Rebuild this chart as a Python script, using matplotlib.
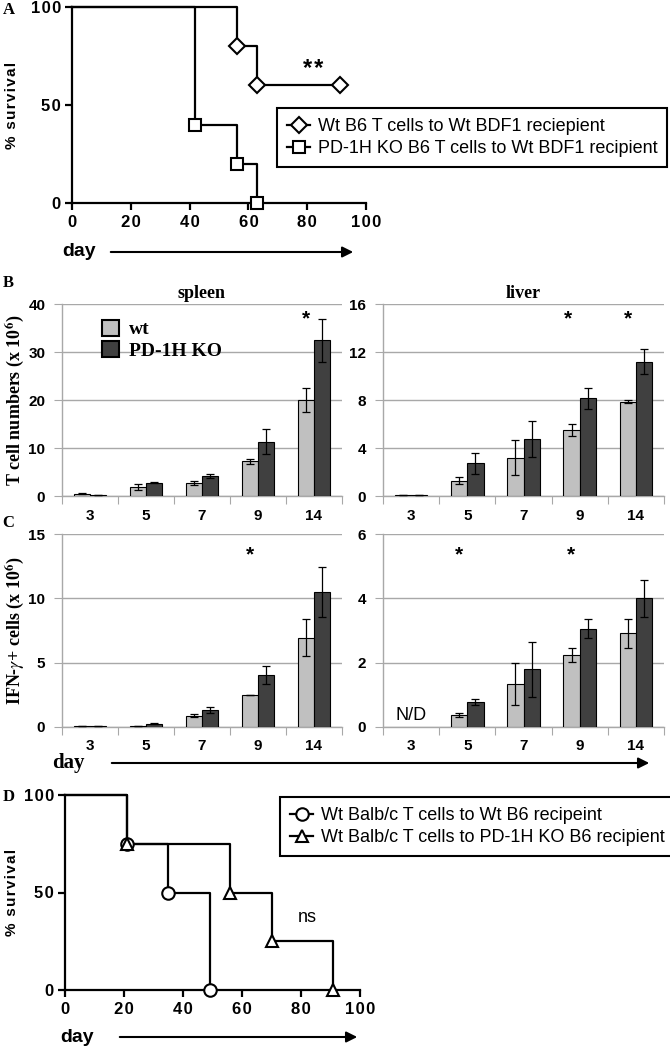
import numpy as np
import matplotlib
matplotlib.use("Agg")
import matplotlib.pyplot as plt
from matplotlib.patches import Patch, FancyArrowPatch
from matplotlib.lines import Line2D

SANS = ["Liberation Sans", "DejaVu Sans"]
SERIF = ["Liberation Serif", "DejaVu Serif"]
plt.rcParams["font.family"] = SANS
plt.rcParams["mathtext.fontset"] = "stix"

# ---- panel A: survival ----
a_wt_x = [0, 56, 63, 91]
a_wt_y = [100, 80, 60, 60]
a_ko_x = [0, 42, 56, 63]
a_ko_y = [100, 40, 20, 0]
a_labels = ["Wt B6 T cells to Wt BDF1 reciepient",
            "PD-1H KO B6 T cells to Wt BDF1 recipient"]

# ---- panels B / C: bars ----
days = ["3", "5", "7", "9", "14"]
b_spleen_wt = [0.5, 1.8, 2.7, 7.2, 20.0]
b_spleen_wt_err = [0.15, 0.6, 0.5, 0.55, 2.4]
b_spleen_ko = [0.15, 2.8, 4.1, 11.3, 32.4]
b_spleen_ko_err = [0.0, 0.1, 0.4, 2.6, 4.4]
b_liver_wt = [0.08, 1.28, 3.2, 5.5, 7.86]
b_liver_wt_err = [0.0, 0.3, 1.45, 0.47, 0.15]
b_liver_ko = [0.08, 2.72, 4.72, 8.14, 11.2]
b_liver_ko_err = [0.0, 0.88, 1.5, 0.9, 1.05]

c_spleen_wt = [0.05, 0.1, 0.88, 2.49, 6.94]
c_spleen_wt_err = [0.0, 0.0, 0.1, 0.03, 1.45]
c_spleen_ko = [0.05, 0.25, 1.32, 4.04, 10.47]
c_spleen_ko_err = [0.0, 0.05, 0.2, 0.7, 1.95]
c_liver_wt = [np.nan, 0.37, 1.34, 2.24, 2.91]
c_liver_wt_err = [np.nan, 0.05, 0.65, 0.22, 0.45]
c_liver_ko = [np.nan, 0.77, 1.79, 3.06, 4.0]
c_liver_ko_err = [np.nan, 0.1, 0.85, 0.3, 0.58]

# ---- panel D: survival ----
d_wt_x = [0, 21, 35, 49]
d_wt_y = [100, 75, 50, 0]
d_ko_x = [0, 21, 56, 70, 91]
d_ko_y = [100, 75, 50, 25, 0]
d_labels = ["Wt Balb/c T cells to Wt B6 recipeint",
            "Wt Balb/c T cells to PD-1H KO B6 recipient"]

W, H = 670, 1050
fig = plt.figure(figsize=(6.7, 10.5), dpi=100)


def box(x0, y0, x1, y1):
    return [x0 / W, 1 - y1 / H, (x1 - x0) / W, (y1 - y0) / H]


def fx(x):
    return x / W


def fy(y):
    return 1 - y / H


def spaced(s):
    return "\u200a".join(s)


def place_ylabel(ax, x_px, x0, width):
    ax.yaxis.label.set_va("center")
    ax.yaxis.set_label_coords((x_px - x0) / width, 0.5)


def survival_axes(ax, xs_list, ys_list, markers, labels, legend_anchor):
    for xs, ys, m in zip(xs_list, ys_list, markers):
        ax.step(xs, ys, where="post", color="black", lw=1.6, clip_on=False)
        ax.plot(xs[1:], ys[1:], ls="none", marker=m, ms=9 if m != "D" else 8,
                mfc="white", mec="black", mew=1.5, clip_on=False, zorder=5)
    ax.set_xlim(0, 100)
    ax.set_ylim(0, 100)
    ax.set_xticks(range(0, 101, 20))
    ax.set_xticklabels([spaced(str(v)) for v in range(0, 101, 20)])
    ax.set_yticks([0, 50, 100])
    ax.set_yticklabels([spaced(str(v)) for v in [0, 50, 100]])
    for s in ["top", "right"]:
        ax.spines[s].set_visible(False)
    for s in ["left", "bottom"]:
        ax.spines[s].set_linewidth(1.6)
    ax.tick_params(width=1.6, length=5, labelsize=12)
    ax.tick_params(axis="y", pad=3)
    for t in ax.get_xticklabels() + ax.get_yticklabels():
        t.set_fontweight("bold")
    ax.set_ylabel(spaced("% survival"), fontsize=11, fontweight="bold")
    handles = [Line2D([0], [0], color="black", lw=1.6, marker=m,
                      ms=9 if m != "D" else 8, mfc="white", mec="black", mew=1.5)
               for m in markers]
    leg = fig.legend(handles, labels, loc="upper left",
                     bbox_to_anchor=legend_anchor, fontsize=13,
                     fancybox=False, edgecolor="black", framealpha=1,
                     handlelength=1.3, handletextpad=0.4, borderpad=0.55,
                     labelspacing=0.3, borderaxespad=0)
    leg.get_frame().set_linewidth(1.5)


def bar_axes(ax, wt, wt_err, ko, ko_err, ymax, ystep, title=None):
    x = np.arange(len(days))
    w = 0.29
    ek = dict(ecolor="black", elinewidth=0.9, capsize=3, capthick=0.9)
    ax.bar(x - w / 2, wt, w, yerr=wt_err, color="#c0c0c0", edgecolor="black",
           linewidth=0.8, error_kw=ek, zorder=3)
    ax.bar(x + w / 2, ko, w, yerr=ko_err, color="#404040", edgecolor="black",
           linewidth=0.8, error_kw=ek, zorder=3)
    ax.set_xlim(-0.5, len(days) - 0.5)
    ax.set_ylim(0, ymax)
    ax.set_yticks(np.arange(0, ymax + 0.01, ystep))
    ax.yaxis.grid(True, color="#a8a8a8", lw=1.0, zorder=0)
    ax.set_axisbelow(True)
    for s in ["top", "right"]:
        ax.spines[s].set_visible(False)
    for s in ["left", "bottom"]:
        ax.spines[s].set_color("#a8a8a8")
        ax.spines[s].set_linewidth(1.0)
    ax.set_xticks(np.arange(-0.5, len(days)), labels=[""] * (len(days) + 1))
    ax.set_xticks(x, labels=days, minor=True)
    ax.tick_params(axis="x", which="major", length=6, color="#a8a8a8")
    ax.tick_params(axis="x", which="minor", length=0, pad=9, labelsize=11)
    ax.tick_params(axis="y", length=6, color="#a8a8a8", labelsize=11, pad=6)
    for t in ax.get_xticklabels(minor=True) + ax.get_yticklabels():
        t.set_fontweight("bold")
    if title:
        ax.set_title(title, family=SERIF, fontweight="bold", fontsize=13, pad=4)


# panel A
axA = fig.add_axes(box(72, 7, 366, 203))
survival_axes(axA, [a_wt_x, a_ko_x], [a_wt_y, a_ko_y], ["D", "s"], a_labels,
              (fx(277), fy(108)))
place_ylabel(axA, 12, 72, 294)
axA.text(82, 68, spaced("**"), ha="center", va="center", fontsize=17, fontweight="bold")

# panel B
axBs = fig.add_axes(box(62, 304, 342, 496))
bar_axes(axBs, b_spleen_wt, b_spleen_wt_err, b_spleen_ko, b_spleen_ko_err, 40, 10, "spleen")
axBs.set_ylabel(r"T cell numbers (x 10$^{\mathbf{6}}$)", family=SERIF,
                fontweight="bold", fontsize=13)
place_ylabel(axBs, 15, 62, 280)
axBs.text(3.85, 37, "*", ha="center", va="center", fontsize=15, fontweight="bold")
axBs.legend([Patch(facecolor="#c0c0c0", edgecolor="black", lw=1.5),
             Patch(facecolor="#404040", edgecolor="black", lw=1.5)],
            ["wt", "PD-1H KO"], loc="upper left",
            bbox_to_anchor=(0.08, 1.01), frameon=False,
            prop=dict(family=SERIF, weight="bold", size=14),
            handlelength=0.9, handleheight=0.9, handletextpad=0.5,
            labelspacing=0.15)

axBl = fig.add_axes(box(383, 304, 664, 496))
bar_axes(axBl, b_liver_wt, b_liver_wt_err, b_liver_ko, b_liver_ko_err, 16, 4, "liver")
axBl.text(2.8, 14.8, "*", ha="center", va="center", fontsize=15, fontweight="bold")
axBl.text(3.85, 14.8, "*", ha="center", va="center", fontsize=15, fontweight="bold")

# panel C
axCs = fig.add_axes(box(62, 534, 342, 727))
bar_axes(axCs, c_spleen_wt, c_spleen_wt_err, c_spleen_ko, c_spleen_ko_err, 15, 5)
axCs.set_ylabel(r"IFN-$\gamma$+ cells (x 10$^{\mathbf{6}}$)", family=SERIF,
                fontweight="bold", fontsize=13)
place_ylabel(axCs, 15, 62, 280)
axCs.text(2.85, 13.4, "*", ha="center", va="center", fontsize=15, fontweight="bold")

axCl = fig.add_axes(box(383, 534, 664, 727))
bar_axes(axCl, c_liver_wt, c_liver_wt_err, c_liver_ko, c_liver_ko_err, 6, 2)
axCl.text(0, 0.08, "N/D", ha="center", va="bottom", fontsize=13)
axCl.text(0.85, 5.35, "*", ha="center", va="center", fontsize=15, fontweight="bold")
axCl.text(2.85, 5.35, "*", ha="center", va="center", fontsize=15, fontweight="bold")

# panel D
axD = fig.add_axes(box(65, 795, 360, 990))
survival_axes(axD, [d_wt_x, d_ko_x], [d_wt_y, d_ko_y], ["o", "^"], d_labels,
              (fx(280), fy(797)))
place_ylabel(axD, 12, 65, 295)
axD.text(82, 37, "ns", ha="center", va="center", fontsize=13)

# panel letters
for letter, x, y in [("A", 3, 10), ("B", 3, 283), ("C", 2, 523), ("D", 3, 797)]:
    fig.text(fx(x), fy(y), letter, family=SERIF, fontweight="bold", fontsize=12,
             ha="left", va="center")


# "day" labels with arrows
def day_arrow(xl, y, x0, x1, serif=False):
    fig.text(fx(xl), fy(y), "day", fontsize=14 if not serif else 15,
             fontweight="bold", family=SERIF if serif else SANS,
             ha="left", va="center")
    fig.add_artist(FancyArrowPatch(
        (fx(x0), fy(y)), (fx(x1), fy(y)), transform=fig.transFigure,
        arrowstyle="-|>", mutation_scale=16, lw=1.5, color="black"))


day_arrow(62, 252, 108, 356)
day_arrow(52, 763, 109, 652, serif=True)
day_arrow(60, 1037, 117, 360)

fig.savefig("out.png", dpi=100)
